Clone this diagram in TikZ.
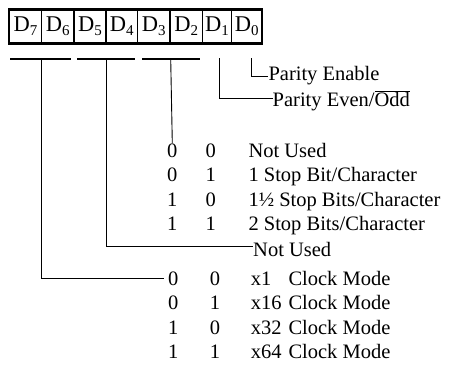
\documentclass[tikz,border=0pt]{standalone}
\usepackage{fontspec}
\setmainfont{Liberation Serif}
\newcommand{\bigtxt}{\fontsize{20.5}{24}\selectfont}
\newcommand{\celltxt}{\fontsize{22.5}{26}\selectfont}
\newcommand{\cellsub}[1]{\raisebox{-4pt}{\fontsize{15}{17}\selectfont #1}}
\begin{document}
\begin{tikzpicture}[x=1pt,y=-1pt,
  lbl/.style={inner sep=0pt, anchor=base west, font=\bigtxt},
  dig/.style={inner sep=0pt, anchor=base, font=\bigtxt},
  cell/.style={draw, line width=1.1pt, minimum height=33pt, inner sep=0pt, font=\celltxt, anchor=center},
  frame/.style={line width=2pt},
  wire/.style={line width=0.9pt},
  brk/.style={line width=1.8pt}]
\useasboundingbox (0,0) rectangle (455,381);
% register cells
\node[cell, minimum width=32.4pt] (d7) at (25.5,26.5) {D\cellsub{7}};
\node[cell, minimum width=32.3pt] (d6) at (57.85,26.5) {D\cellsub{6}};
\node[cell, minimum width=32pt] (d5) at (90,26.5) {D\cellsub{5}};
\node[cell, minimum width=31.7pt] (d4) at (121.85,26.5) {D\cellsub{4}};
\node[cell, minimum width=32.3pt] (d3) at (153.85,26.5) {D\cellsub{3}};
\node[cell, minimum width=32.5pt] (d2) at (186.25,26.5) {D\cellsub{2}};
\node[cell, minimum width=29.2pt] (d1) at (217.1,26.5) {D\cellsub{1}};
\node[cell, minimum width=30pt] (d0) at (246.7,26.5) {D\cellsub{0}};
\draw[frame] (d7.north west) rectangle (d0.south east);
% brackets
\draw[brk] (10,59) -- (71,59);
\draw[brk] (77,59) -- (135,59);
\draw[brk] (142,59) -- (200,59);
\coordinate (b76) at (41.7,59);
\coordinate (b54) at (106.7,59);
\coordinate (b32) at (170.7,59);
\coordinate (b1) at (219,58);
\coordinate (b0) at (251.5,58);
% parity labels
\node[lbl] (pen) at (268.3,80) {Parity Enable};
\node[lbl] (peo) at (272.5,106.7) {Parity Even/$\overline{\hbox{Odd}}$};
\draw[wire] (b0) |- ([yshift=-1.5pt]pen.west);
\draw[wire] (b1) |- ([yshift=2.5pt]peo.west);
% stop bits table
\node[dig] (s1a) at (172.3,157) {0};
\node[dig] (s1b) at (210.7,157) {0};
\node[lbl] (s1t) at (248.3,157) {Not Used};
\node[dig] (s2a) at (172.3,181.5) {0};
\node[dig] (s2b) at (210.7,181.5) {1};
\node[lbl] (s2t) at (248.3,181.5) {1 Stop Bit/Character};
\node[dig] (s3a) at (172.3,206) {1};
\node[dig] (s3b) at (210.7,206) {0};
\node[lbl] (s3t) at (248.3,206) {1½ Stop Bits/Character};
\node[dig] (s4a) at (172.3,230.3) {1};
\node[dig] (s4b) at (210.7,230.3) {1};
\node[lbl] (s4t) at (248.3,230.3) {2 Stop Bits/Character};
\draw[wire] (b32) -- (s1a.north);
% not used
\node[lbl] (nu) at (253,256.5) {Not Used};
\draw[wire] (b54) |- ([yshift=3pt]nu.west);
% clock table
\node[dig] (c1a) at (173.3,285) {0};
\node[dig] (c1b) at (215,285) {0};
\node[lbl] (c1x) at (250.7,285) {x1};
\node[lbl] (c1t) at (288.3,285) {Clock Mode};
\node[dig] (c2a) at (173.3,309.7) {0};
\node[dig] (c2b) at (215,309.7) {1};
\node[lbl] (c2x) at (250.7,309.7) {x16};
\node[lbl] (c2t) at (288.3,309.7) {Clock Mode};
\node[dig] (c3a) at (173.3,334.2) {1};
\node[dig] (c3b) at (215,334.2) {0};
\node[lbl] (c3x) at (250.7,334.2) {x32};
\node[lbl] (c3t) at (288.3,334.2) {Clock Mode};
\node[dig] (c4a) at (173.3,358.5) {1};
\node[dig] (c4b) at (215,358.5) {1};
\node[lbl] (c4x) at (250.7,358.5) {x64};
\node[lbl] (c4t) at (288.3,358.5) {Clock Mode};
\draw[wire] (b76) |- ([xshift=-4pt]c1a.west);
\end{tikzpicture}
\end{document}
